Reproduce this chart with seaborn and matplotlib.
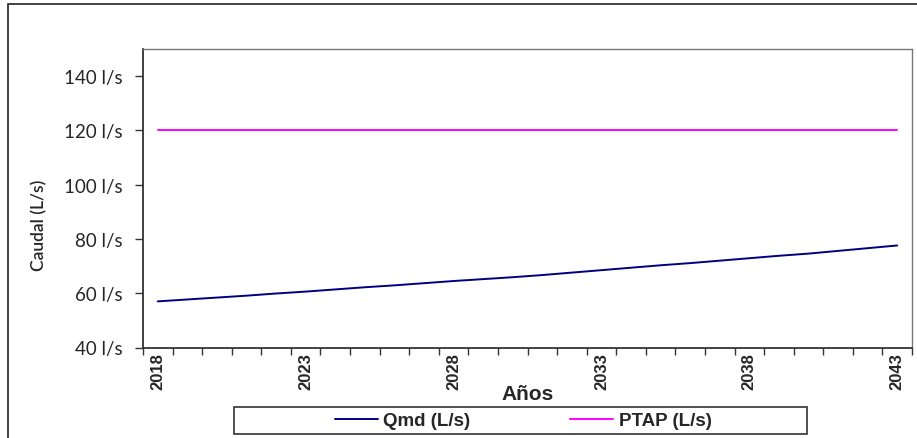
import numpy as np
import pandas as pd
import matplotlib
matplotlib.use('Agg')
import matplotlib.pyplot as plt
from matplotlib.patches import Rectangle
import seaborn as sns

# datos
anios = list(range(2018, 2044))
qmd = [57.0, 57.7, 58.4, 59.1, 59.9, 60.6, 61.4, 62.2, 62.9, 63.7,
       64.5, 65.2, 65.9, 66.7, 67.6, 68.5, 69.4, 70.3, 71.1, 72.0,
       72.9, 73.8, 74.6, 75.6, 76.6, 77.6]
ptap = [120.0] * len(anios)
series = ['Qmd (L/s)', 'PTAP (L/s)']
colores = {'Qmd (L/s)': '#000080', 'PTAP (L/s)': '#FF00FF'}
yticks = [40, 60, 80, 100, 120, 140]
xlabels = [2018, 2023, 2028, 2033, 2038, 2043]

df = pd.DataFrame({
    'Año': anios * 2,
    'Caudal': qmd + ptap,
    'Serie': [series[0]] * len(anios) + [series[1]] * len(anios),
})

sns.set_style('white')
plt.rcParams['font.family'] = ['Liberation Sans', 'DejaVu Sans']

fig = plt.figure(figsize=(9.17, 4.39), dpi=100)
ax = fig.add_axes([143 / 917, 1 - 348.5 / 439, (912 - 143) / 917, (348.5 - 50) / 439])

sns.lineplot(data=df, x='Año', y='Caudal', hue='Serie', palette=colores,
             hue_order=series, linewidth=1.4, ax=ax, legend=True)

ax.set_xlim(2017.5, 2043.5)
ax.set_ylim(40, 150)
ax.set_yticks(yticks)
ax.set_yticklabels(['%d l/s' % v for v in yticks], family=['Lato', 'DejaVu Sans'], fontsize=13.5)
ax.set_xticks(xlabels)
ax.set_xticklabels([str(v) for v in xlabels], rotation=90, fontweight='bold', fontsize=12)
ax.set_xticks(np.arange(2017.5, 2044, 1), minor=True)
ax.tick_params(axis='x', which='major', length=0, pad=3)
ax.tick_params(axis='x', which='minor', length=5, width=1, color='#333333', direction='out', bottom=True)
ax.tick_params(axis='y', length=6, width=1, color='#333333', direction='out', left=True, pad=9)

for lado in ['left', 'bottom']:
    ax.spines[lado].set_color('#333333')
    ax.spines[lado].set_linewidth(1.3)
for lado in ['top', 'right']:
    ax.spines[lado].set_color('#7a7a7a')
    ax.spines[lado].set_linewidth(1.0)

ax.set_xlabel('Años', fontsize=15, fontweight='bold', labelpad=-3)
ax.set_ylabel('Caudal (L/s)', family=['Lato', 'DejaVu Sans'], fontsize=12.5,
              fontweight='semibold')
ax.yaxis.set_label_coords((47 - 143) / 769, (348.5 - 225) / 298.5)

leg = ax.legend(loc='center', bbox_to_anchor=((523 - 143) / 769, (348.5 - 421.5) / 298.5), ncol=2,
                frameon=False, fontsize=13.5, handlelength=2.3, columnspacing=5.3,
                handletextpad=0.3, borderaxespad=0)
for t in leg.get_texts():
    t.set_fontweight('bold')

# recuadro de la leyenda
ax.add_patch(Rectangle(((234 - 143) / 769, (348.5 - 435) / 298.5), (807 - 234) / 769, 27 / 298.5,
                       transform=ax.transAxes, clip_on=False, fill=False,
                       edgecolor='#333333', linewidth=1.2))

# marco exterior del grafico
fig.patches.append(Rectangle((8 / 917, -0.05), 1.0, 1.05 - 5 / 439, transform=fig.transFigure,
                             fill=False, edgecolor='#222222', linewidth=1.2))

fig.savefig('out.png', dpi=100)
